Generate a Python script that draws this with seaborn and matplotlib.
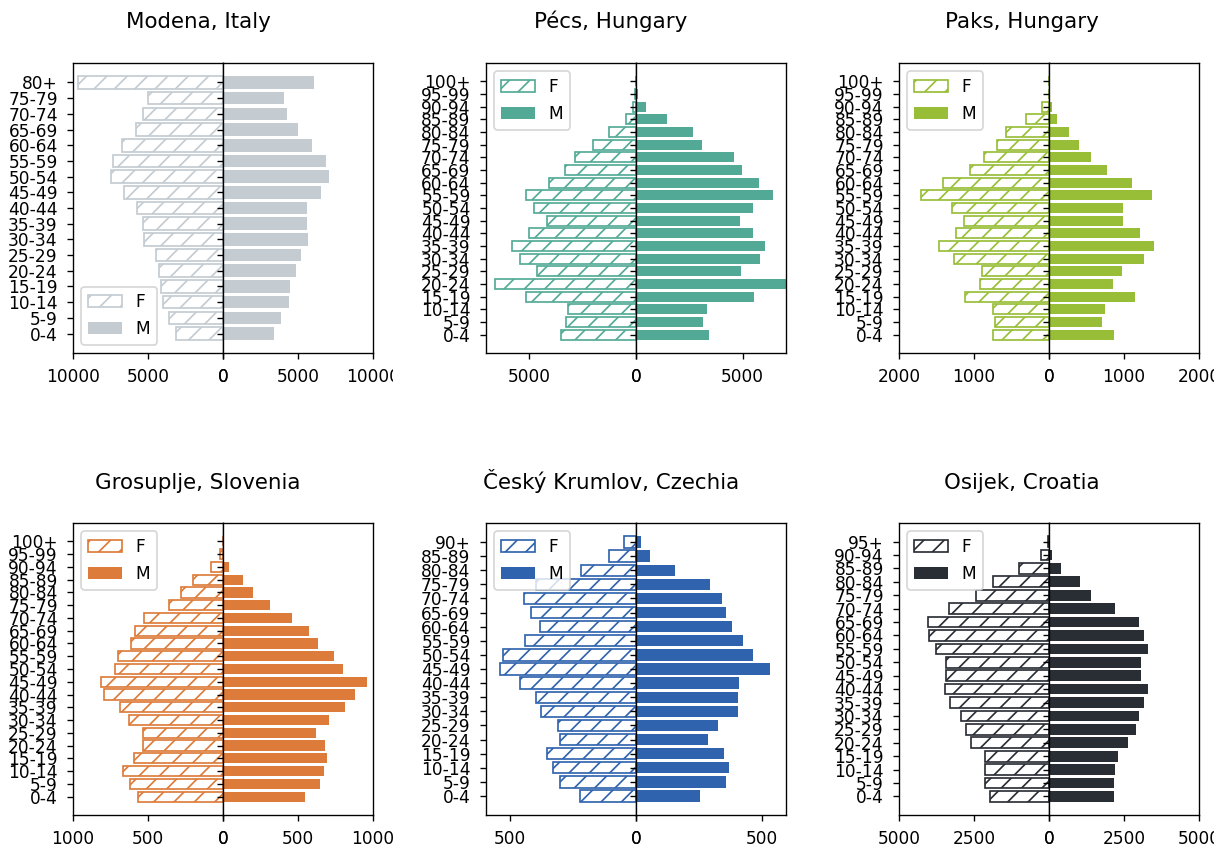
import matplotlib
matplotlib.use("Agg")
import matplotlib.pyplot as plt
import pandas as pd
import seaborn as sns
from matplotlib.transforms import Bbox

# ---------------------------------------------------------------- age groups
ages_5yr = ["0-4", "5-9", "10-14", "15-19", "20-24", "25-29", "30-34",
            "35-39", "40-44", "45-49", "50-54", "55-59", "60-64", "65-69",
            "70-74", "75-79", "80-84", "85-89", "90-94", "95-99", "100+"]
ages_modena = ages_5yr[:16] + ["80+"]
ages_krumlov = ages_5yr[:18] + ["90+"]
ages_osijek = ages_5yr[:19] + ["95+"]

# ---------------------------------------------------------------- populations (youngest first)
modena_f = [3130, 3620, 4000, 4150, 4240, 4490, 5260, 5350, 5730, 6580,
            7460, 7330, 6730, 5800, 5350, 5020, 9690]
modena_m = [3420, 3860, 4370, 4440, 4880, 5220, 5660, 5570, 5570, 6530,
            7040, 6860, 5930, 4970, 4260, 4090, 6080]

pecs_f = [3500, 3270, 3200, 5140, 6610, 4660, 5450, 5810, 5000, 4160,
          4770, 5140, 4090, 3310, 2840, 2030, 1250, 470, 150, 30, 0]
pecs_m = [3410, 3160, 3330, 5530, 7050, 4920, 5810, 6060, 5470, 4860,
          5470, 6420, 5770, 4970, 4610, 3090, 2670, 1450, 470, 100, 0]

paks_f = [751, 716, 751, 1124, 920, 898, 1271, 1462, 1244, 1138,
          1298, 1702, 1409, 1058, 867, 698, 578, 311, 100, 0, 0]
paks_m = [871, 711, 747, 1147, 853, 973, 1267, 1404, 1213, 987,
          987, 1373, 1111, 778, 556, 400, 262, 102, 40, 0, 0]

grosuplje_f = [566, 622, 666, 593, 533, 533, 630, 690, 794, 812,
               723, 699, 611, 586, 524, 361, 283, 199, 80, 18, 0]
grosuplje_m = [546, 648, 675, 690, 681, 622, 708, 812, 880, 960,
               803, 743, 633, 571, 460, 314, 199, 133, 38, 4, 0]

krumlov_f = [224, 302, 331, 354, 301, 308, 375, 395, 461, 539,
             527, 441, 379, 416, 446, 395, 219, 107, 48]
krumlov_m = [255, 358, 368, 348, 286, 326, 404, 404, 409, 532,
             466, 424, 379, 358, 342, 292, 153, 55, 18]

osijek_f = [1956, 2122, 2122, 2122, 2600, 2778, 2944, 3300, 3478, 3433,
            3433, 3767, 4000, 4022, 3333, 2433, 1856, 989, 260, 30]
osijek_m = [2167, 2167, 2211, 2289, 2644, 2900, 2989, 3156, 3289, 3078,
            3078, 3289, 3156, 2989, 2211, 1389, 1033, 389, 89, 15]

titles = ["Modena, Italy", "Pécs, Hungary", "Paks, Hungary",
          "Grosuplje, Slovenia", "Český Krumlov, Czechia", "Osijek, Croatia"]

# ---------------------------------------------------------------- figure geometry (pixels)
W, H, DPI = 1227, 846, 122
plt.rcParams["xtick.major.pad"] = 5.5
plt.rcParams["ytick.major.pad"] = 5.5
fig = plt.figure(figsize=(W / DPI, H / DPI), dpi=DPI)

col_left = [73, 486, 899]
half_w = 150
row_top = [63, 523]
row_bottom = [353, 815]
title_x = [198, 611, 1022]
title_base = [28, 489]
clip_right = [393, 800, 1214]

panels = [
    # title, ages, F, M, colour, x-limit, ticks, legend location
    (titles[0], ages_modena, modena_f, modena_m, "#c4ccd2", 10000, [0, 5000, 10000], "lower left"),
    (titles[1], ages_5yr, pecs_f, pecs_m, "#52aa96", 7030, [0, 5000], "upper left"),
    (titles[2], ages_5yr, paks_f, paks_m, "#98be37", 2000, [0, 1000, 2000], "upper left"),
    (titles[3], ages_5yr, grosuplje_f, grosuplje_m, "#dc7b3a", 1000, [0, 500, 1000], "upper left"),
    (titles[4], ages_krumlov, krumlov_f, krumlov_m, "#3063ad", 595, [0, 500], "upper left"),
    (titles[5], ages_osijek, osijek_f, osijek_m, "#292d34", 5000, [0, 2500, 5000], "upper left"),
]

right_axes = []
for i, (title, ages, f_vals, m_vals, color, lim, ticks, loc) in enumerate(panels):
    row, col = divmod(i, 3)
    bottom = 1 - row_bottom[row] / H
    height = (row_bottom[row] - row_top[row]) / H
    axF = fig.add_axes([col_left[col] / W, bottom, half_w / W, height])
    axM = fig.add_axes([(col_left[col] + half_w) / W, bottom, half_w / W, height])

    order = ages[::-1]  # oldest group at the top
    df = pd.DataFrame({"age": ages, "F": f_vals, "M": m_vals})

    sns.barplot(data=df, x="F", y="age", order=order, orient="y", color=color,
                saturation=1, width=0.8, errorbar=None, ax=axF)
    sns.barplot(data=df, x="M", y="age", order=order, orient="y", color=color,
                saturation=1, width=0.8, errorbar=None, ax=axM)

    for p in axF.patches:
        p.set_facecolor("white")
        p.set_edgecolor(color)
        p.set_hatch("//")
        p.set_linewidth(1.0)
    for p in axM.patches:
        p.set_linewidth(0)

    n = len(ages)
    pad = 0.4 + 0.05 * (n - 1 + 0.8)
    for ax in (axF, axM):
        ax.set_ylim(n - 1 + pad, -pad)
        ax.set_xlabel("")
        ax.set_ylabel("")
        ax.set_xticks(ticks)
        ax.set_xticklabels([str(t) for t in ticks])

    axF.set_xlim(lim, 0)
    axM.set_xlim(0, lim)
    axM.tick_params(axis="y", labelleft=False)

    axF.legend(handles=[axF.patches[0], axM.patches[0]], labels=["F", "M"], loc=loc)

    fig.text(title_x[col] / W, 1 - title_base[row] / H, title,
             ha="center", va="baseline", fontsize=12.6)
    right_axes.append((axM, col))

# each panel's tick labels are cut at its own right border
fig.canvas.draw()
for axM, col in right_axes:
    box = Bbox.from_extents(0, 0, clip_right[col], H)
    for lbl in axM.get_xticklabels():
        lbl.set_clip_box(box)
        lbl.set_clip_on(True)

fig.savefig("out.png", dpi=DPI)
